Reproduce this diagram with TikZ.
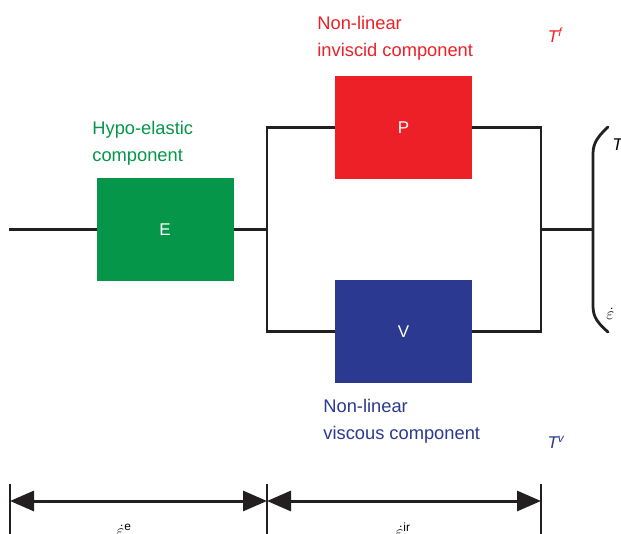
\documentclass[tikz,border=0pt]{standalone}
\usepackage{fontspec}
\setmainfont{Liberation Sans}
\usetikzlibrary{positioning,arrows.meta,calc}
\definecolor{elgreen}{RGB}{5,150,74}
\definecolor{plred}{RGB}{237,32,39}
\definecolor{vsblue}{RGB}{43,57,145}
\definecolor{wire}{RGB}{35,31,32}

\begin{document}
\begin{tikzpicture}[x=1pt, y=-1pt, line width=2.8pt, line cap=rect, draw=wire,
  comp/.style={minimum width=137pt, minimum height=103pt, inner sep=0pt,
    text=white, font=\fontsize{17}{20}\selectfont},
  lbl/.style={align=left, anchor=north west, inner sep=0pt,
    font=\fontsize{18.3}{27}\selectfont},
  sym/.style={inner sep=0pt, font=\fontsize{17}{20}\selectfont},
  dim/.style={{Triangle[length=24pt,width=20pt]}-{Triangle[length=24pt,width=20pt]},
    line width=3pt, line cap=butt}]
  \useasboundingbox (0,0) rectangle (621,534);
  % components
  \node[comp, fill=elgreen] (E) at (165,229.5) {E};
  \node[comp, fill=plred]   (P) at (403.5,127.5) {P};
  \node[comp, fill=vsblue]  (V) at (403.5,331.5) {V};
  % junctions
  \coordinate (in)  at (10,229.5);
  \coordinate (jl)  at (267,229.5);
  \coordinate (jr)  at (541,229.5);
  \coordinate (out) at (593,229.5);
  % wires
  \draw (in) -- (E.west);
  \draw (E.east) -- (jl);
  \draw (P.west) -| (jl) |- (V.west);
  \draw (P.east) -| (jr) |- (V.east);
  \draw (jr) -- (out);
  % bracket
  \draw[line cap=round] (608,127) .. controls (594,140) and (593,146) .. (593,156)
    -- (593,304) .. controls (593,314) and (594,320) .. (608,332);
  \node[sym, anchor=west] (T) at (611,145) {\itshape T};
  \node[sym, anchor=west] (ed) at (605,314) {$\dot{\varepsilon}$};
  % labels
  \node[lbl, text=plred]  (lp) at (316,15) {Non-linear\\inviscid component};
  \node[lbl, text=elgreen] (le) at (91,120) {Hypo-elastic\\component};
  \node[lbl, text=vsblue] (lv) at (322,398) {Non-linear\\viscous component};
  \node[sym, text=plred]  (Tf) at (555,35) {\itshape T\textsuperscript{f}};
  \node[sym, text=vsblue] (Tv) at (556,442) {\itshape T\textsuperscript{v}};
  % strain rates
  \coordinate (d0) at (10,501);
  \coordinate (d1) at (267,501);
  \coordinate (d2) at (541,501);
  \foreach \c in {d0,d1,d2} \draw[line cap=butt] ($(\c)+(0,-17)$) -- ($(\c)+(0,40)$);
  \draw[dim] (d0) -- (d1);
  \draw[dim] (d1) -- (d2);
  \node[sym] (ee) at (124,530) {$\dot{\varepsilon}$\textsuperscript{e}};
  \node[sym] (eir) at (403,530) {$\dot{\varepsilon}$\textsuperscript{ir}};
\end{tikzpicture}
\end{document}
